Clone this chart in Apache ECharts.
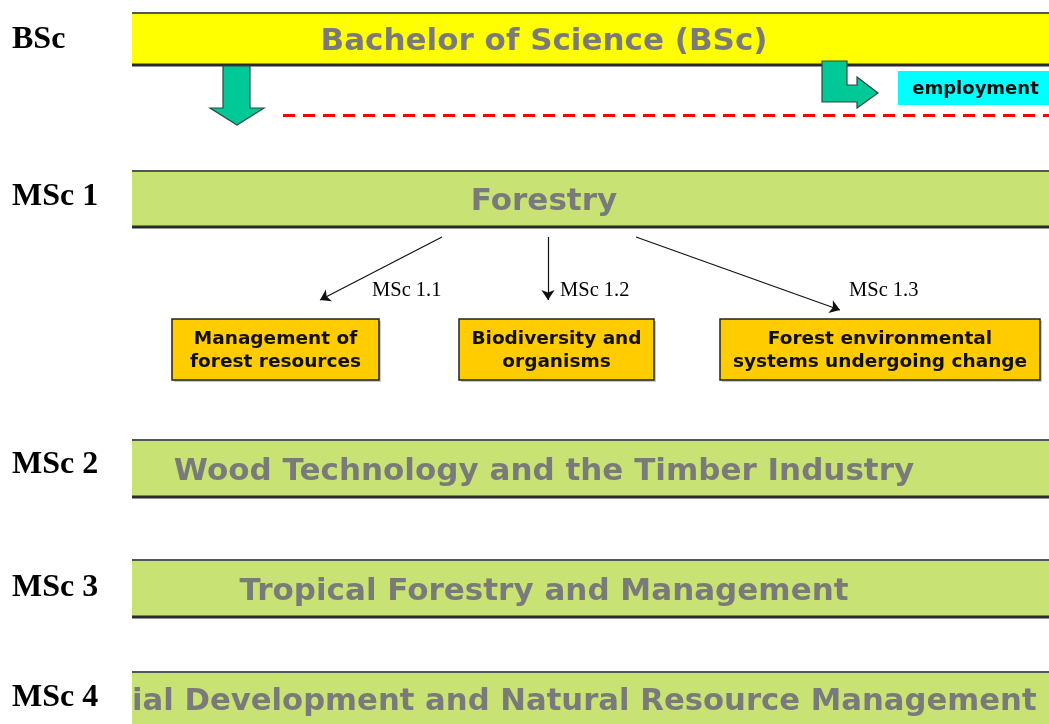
<!DOCTYPE html>
<html>
<head>
<meta charset="utf-8">
<script src="https://cdn.jsdelivr.net/npm/echarts@6/dist/echarts.min.js"></script>
<style>
  html, body { margin: 0; padding: 0; background: #fff; }
</style>
</head>
<body>
<div id="diagram" style="width: 1049px;height: 724px;"></div>

<script type="text/javascript">
    // study levels shown on the left
    var levelNames = ['BSc', 'MSc 1', 'MSc 2', 'MSc 3', 'MSc 4'];
    var levelY = [40, 197, 465, 588, 698];

    // programme bands (x runs 132 -> 1049)
    var programmeTitles = [
        'Bachelor of Science (BSc)',
        'Forestry',
        'Wood Technology and the Timber Industry',
        'Tropical Forestry and Management',
        'ial Development and Natural Resource Management'
    ];
    var bandTop = [13, 171, 440, 560, 672];
    var bandBottom = [65, 227, 497, 617, 735];
    var bandLeft = 132, bandRight = 1049;

    // MSc 1 specialisations
    var specCodes = ['MSc 1.1', 'MSc 1.2', 'MSc 1.3'];
    var specTitles = [
        'Management of\nforest resources',
        'Biodiversity and\norganisms',
        'Forest environmental\nsystems undergoing change'
    ];
    var specLeft = [172, 459, 720];
    var specRight = [379, 654, 1040];
    var specTop = 319, specBottom = 380;
    var arrowFrom = [[442, 237], [548, 237], [636, 237]];
    var arrowTo = [[320, 300], [548, 300], [840, 310]];
    var codeX = [372, 560, 849];
    var codeY = 291;

    // BSc -> MSc / employment
    var downArrow = [[223, 66], [250, 66], [250, 108], [264, 108], [237, 125], [210, 108], [223, 108]];
    var turnArrow = [[822, 61], [847, 61], [847, 85], [857, 85], [857, 77], [878, 93], [857, 108], [857, 102], [822, 102]];
    var employLabel = 'employment';
    var employBox = [898, 71, 1049, 105];
    var dashedLine = [[283, 115], [1049, 115]];

    var chart = echarts.init(document.getElementById('diagram'));

    function bandItem(params, api) {
        var i = params.dataIndex;
        var p0 = api.coord([api.value(0), api.value(1)]);
        var p1 = api.coord([api.value(2), api.value(3)]);
        var last = i === programmeTitles.length - 1;
        var midY = last ? 702 : (p0[1] + p1[1]) / 2 + 3;
        return {
            type: 'group',
            children: [
                {type: 'rect', shape: {x: p0[0], y: p0[1], width: p1[0] - p0[0], height: p1[1] - p0[1]},
                    style: {fill: i === 0 ? '#ffff00' : '#c8e274'}},
                {type: 'line', shape: {x1: p0[0], y1: p0[1], x2: p1[0], y2: p0[1]},
                    style: {stroke: '#555', lineWidth: 2}},
                {type: 'line', shape: {x1: p0[0], y1: p1[1], x2: p1[0], y2: p1[1]},
                    style: {stroke: '#2a2a2a', lineWidth: 3}},
                {type: 'text', style: {
                    text: programmeTitles[i],
                    x: last ? p0[0] : 544, y: midY,
                    textAlign: last ? 'left' : 'center', textVerticalAlign: 'middle',
                    align: last ? 'left' : 'center', verticalAlign: 'middle',
                    fill: '#7a7a7a', font: last ? 'bold 30.7px "DejaVu Sans"' : 'bold 31px "DejaVu Sans"'
                }}
            ]
        };
    }

    function specItem(params, api) {
        var i = params.dataIndex;
        var p0 = api.coord([api.value(0), api.value(1)]);
        var p1 = api.coord([api.value(2), api.value(3)]);
        return {
            type: 'group',
            children: [
                {type: 'rect', shape: {x: p0[0] + 2, y: p0[1] + 2, width: p1[0] - p0[0], height: p1[1] - p0[1]},
                    style: {fill: '#c8c8c8'}},
                {type: 'rect', shape: {x: p0[0], y: p0[1], width: p1[0] - p0[0], height: p1[1] - p0[1]},
                    style: {fill: '#ffcc00', stroke: '#222', lineWidth: 1.5}},
                {type: 'text', style: {
                    text: specTitles[i],
                    x: (p0[0] + p1[0]) / 2, y: (p0[1] + p1[1]) / 2 + 1,
                    textAlign: 'center', textVerticalAlign: 'middle',
                    align: 'center', verticalAlign: 'middle',
                    lineHeight: 23,
                    fill: '#111', font: 'bold 18.5px "DejaVu Sans"'
                }}
            ]
        };
    }

    function labelItem(texts, font, align) {
        return function (params, api) {
            var p = api.coord([api.value(0), api.value(1)]);
            return {type: 'text', style: {
                text: texts[params.dataIndex], x: p[0], y: p[1],
                textAlign: align, textVerticalAlign: 'middle',
                align: align, verticalAlign: 'middle',
                fill: '#000', font: font
            }};
        };
    }

    function polyItem(pts) {
        return function (params, api) {
            var points = pts.map(function (q) { return api.coord(q); });
            return {type: 'polygon', shape: {points: points},
                style: {fill: '#00c896', stroke: '#2b4a3e', lineWidth: 1.2}};
        };
    }

    var option = {
        backgroundColor: '#ffffff',
        animation: false,
        grid: {left: 0, right: 0, top: 0, bottom: 0},
        xAxis: {type: 'value', min: 0, max: 1049, show: false},
        yAxis: {type: 'value', min: 0, max: 724, inverse: true, show: false},
        series: [
            {
                type: 'custom', clip: false, renderItem: bandItem,
                data: bandTop.map(function (t, i) { return [bandLeft, t, bandRight, bandBottom[i]]; })
            },
            {
                type: 'custom', clip: false,
                renderItem: labelItem(levelNames, 'bold 32px "Liberation Serif"', 'left'),
                data: levelY.map(function (y) { return [12, y]; })
            },
            {
                type: 'custom', clip: false, renderItem: specItem,
                data: specLeft.map(function (l, i) { return [l, specTop, specRight[i], specBottom]; })
            },
            {
                type: 'custom', clip: false,
                renderItem: labelItem(specCodes, '20.5px "Liberation Serif"', 'left'),
                data: codeX.map(function (x) { return [x, codeY]; })
            },
            {
                type: 'lines', coordinateSystem: 'cartesian2d',
                symbol: ['none', 'arrow'], symbolSize: [8, 10],
                lineStyle: {color: '#111', width: 1.2, opacity: 1, curveness: 0},
                data: arrowFrom.map(function (f, i) { return {coords: [f, arrowTo[i]]}; })
            },
            {
                type: 'lines', coordinateSystem: 'cartesian2d', symbol: 'none',
                lineStyle: {color: '#ff0000', width: 3, type: [12, 8], opacity: 1},
                data: [{coords: dashedLine}]
            },
            {type: 'custom', clip: false, renderItem: polyItem(downArrow), data: [[0, 0]]},
            {type: 'custom', clip: false, renderItem: polyItem(turnArrow), data: [[0, 0]]},
            {
                type: 'custom', clip: false,
                renderItem: function (params, api) {
                    var p0 = api.coord([api.value(0), api.value(1)]);
                    var p1 = api.coord([api.value(2), api.value(3)]);
                    return {type: 'group', children: [
                        {type: 'rect', shape: {x: p0[0], y: p0[1], width: p1[0] - p0[0], height: p1[1] - p0[1]},
                            style: {fill: '#00ffff'}},
                        {type: 'text', style: {
                            text: employLabel, x: (p0[0] + p1[0]) / 2 + 2, y: (p0[1] + p1[1]) / 2 + 1,
                            textAlign: 'center', textVerticalAlign: 'middle',
                            align: 'center', verticalAlign: 'middle',
                            fill: '#111', font: 'bold 18px "DejaVu Sans"'
                        }}
                    ]};
                },
                data: [employBox]
            }
        ]
    };
    chart.setOption(option);
</script>
</body>
</html>
